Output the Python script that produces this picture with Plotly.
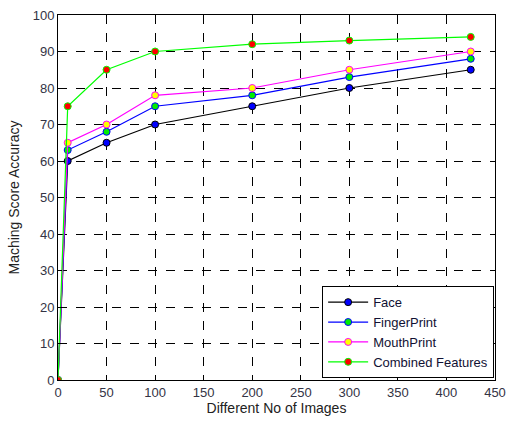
import plotly.graph_objects as go

x_images = [0, 10, 50, 100, 200, 300, 425]
face = [0, 60, 65, 70, 75, 80, 85]
fingerprint = [0, 63, 68, 75, 78, 83, 88]
mouthprint = [0, 65, 70, 78, 80, 85, 90]
combined = [0, 75, 85, 90, 92, 93, 94]

series = [
    ("Face", face, "black", "#0000ff"),
    ("FingerPrint", fingerprint, "#0000ff", "#00ee00"),
    ("MouthPrint", mouthprint, "#ff00ff", "#ffff00"),
    ("Combined Features", combined, "#00ff00", "#ff0000"),
]

fig = go.Figure()
for name, ys, lc, mc in series:
    fig.add_trace(go.Scatter(
        x=x_images, y=ys, name=name, mode="lines+markers",
        line=dict(color=lc, width=1.2),
        marker=dict(color=mc, size=7, line=dict(color=lc, width=1)),
    ))

axis_common = dict(
    showgrid=True, gridcolor="black", griddash="dash", gridwidth=1,
    showline=True, linecolor="black", linewidth=1, mirror=True,
    ticks="inside", ticklen=4, tickcolor="black",
    zeroline=False, automargin=False, ticklabeloverflow="allow",
    tickfont=dict(family="Arial, Liberation Sans", size=13, color="#333344"),
)
fig.update_xaxes(range=[0, 450], dtick=50, **axis_common,
                 title=dict(text="Different No of Images", standoff=2,
                            font=dict(family="Arial, Liberation Sans", size=14, color="#222222")))
fig.update_yaxes(range=[0, 100], dtick=10, **axis_common,
                 title=dict(text="Maching Score Accuracy", standoff=9,
                            font=dict(family="Arial, Liberation Sans", size=14, color="#222222")))

fig.update_layout(
    width=508, height=421,
    margin=dict(l=58, r=13, t=15, b=41),
    paper_bgcolor="white", plot_bgcolor="white",
    showlegend=True,
    legend=dict(x=0.998, y=0.005, xanchor="right", yanchor="bottom",
                bgcolor="white", bordercolor="black", borderwidth=1,
                font=dict(family="Arial, Liberation Sans", size=13, color="#111133"),
                tracegroupgap=0, itemwidth=40),
)

# remove the page's default body margin so the figure fills the window
fig.write_html("out.html", config={"displayModeBar": False},
               post_script="document.body.style.margin='0';document.body.style.overflow='hidden';")
